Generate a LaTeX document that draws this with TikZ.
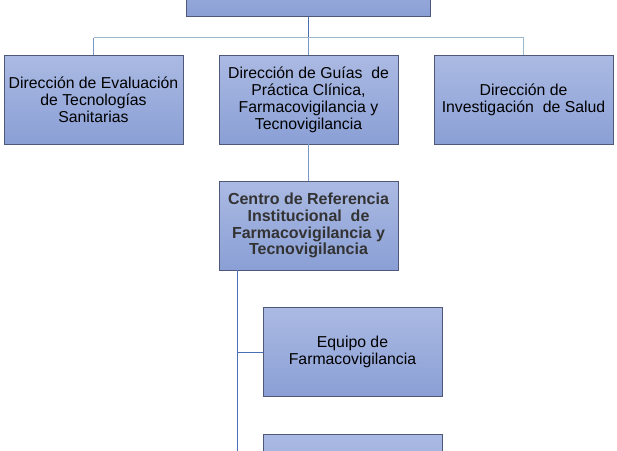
\documentclass[tikz,border=0pt]{standalone}
\usepackage{fontspec}
\setmainfont{Liberation Sans}
\definecolor{boxtop}{HTML}{ABBAE3}
\definecolor{boxbot}{HTML}{8A9FD5}
\definecolor{boxedge}{HTML}{4E5878}
\definecolor{trunkc}{HTML}{4A6FB5}
\definecolor{barc}{HTML}{9DB8CC}
\definecolor{dropc}{HTML}{7896C6}
\tikzset{
  orgbox/.style={rectangle, draw=boxedge, line width=0.8pt, top color=boxtop, bottom color=boxbot,
    minimum width=179pt, minimum height=89pt, inner sep=0pt, align=center,
    font=\fontsize{15.8}{17}\selectfont},
  orgbold/.style={orgbox, font=\fontsize{16}{16.8}\selectfont\bfseries, text=black!80},
  trunk/.style={draw=trunkc, line width=1pt},
  barline/.style={draw=barc, line width=1pt},
  drop/.style={draw=dropc, line width=1pt}
}
\begin{document}
\begin{tikzpicture}[x=1pt,y=-1pt]
\useasboundingbox (0,0) rectangle (617,450);
\clip (0,0) rectangle (617,450);
\node[orgbox, minimum width=244pt, minimum height=60pt, anchor=south] (top) at (308,16.7) {};
\node[orgbox] (b1) at (93.5,99.5) {Dirección de Evaluación\\de Tecnologías\\Sanitarias};
\node[orgbox] (b2) at (308.5,99.5) {Dirección de Guías~ de\\Práctica Clínica,\\Farmacovigilancia y\\Tecnovigilancia};
\node[orgbox] (b3) at (523.5,100) {Dirección de\\Investigación~ de Salud};
\node[orgbold] (b4) at (308.5,225.5) {Centro de Referencia\\Institucional~ de\\Farmacovigilancia y\\Tecnovigilancia};
\node[orgbox] (b5) at (352.5,352) {Equipo de\\Farmacovigilancia};
\node[orgbox] (b6) at (352.5,478.5) {};
\coordinate (bar) at (0,37.5);
\coordinate (spx) at (237.5,0);
\draw[trunk] (top.south) -- (top.south |- bar);
\draw[barline] (b1.north |- bar) -- (b3.north |- bar);
\draw[drop] (b1.north |- bar) -- (b1.north);
\draw[drop] (b2.north |- bar) -- (b2.north);
\draw[barline] (b3.north |- bar) -- (b3.north);
\draw[drop] (b2.south) -- (b4.north);
\draw[trunk] (b4.south -| spx) -- (b6.west -| spx);
\draw[trunk] (b5.west -| spx) -- (b5.west);
\end{tikzpicture}
\end{document}
